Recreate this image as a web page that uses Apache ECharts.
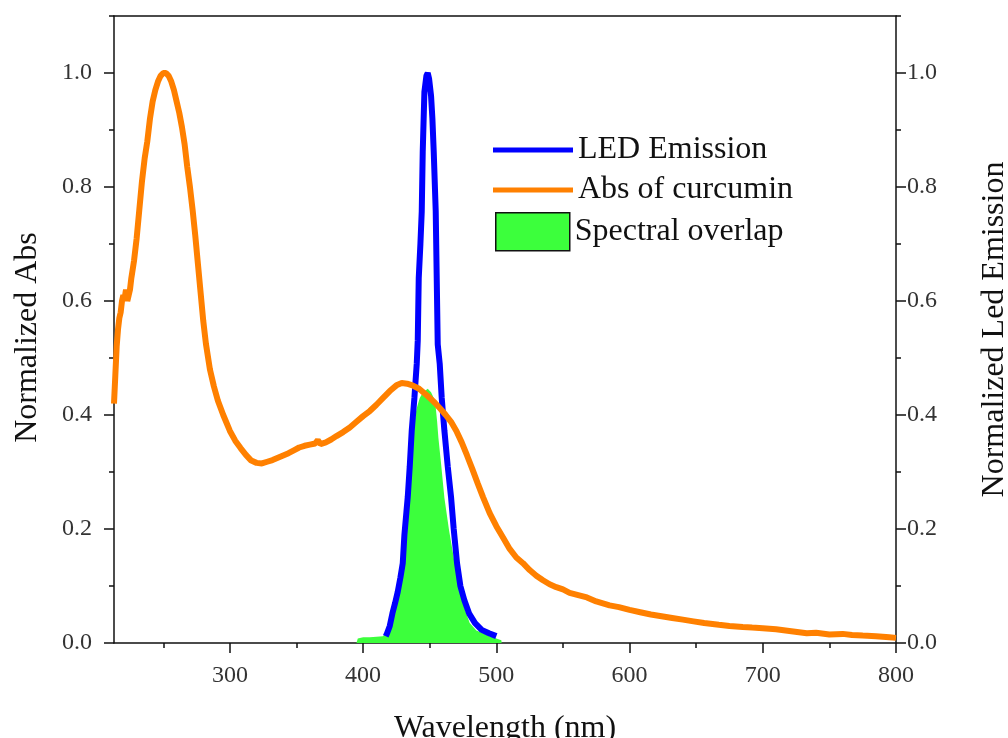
<!DOCTYPE html>
<html>
<head>
<meta charset="utf-8">
<script src="https://cdn.jsdelivr.net/npm/echarts@6/dist/echarts.min.js"></script>
<style>
  html, body { margin: 0; padding: 0; background: #fff; }
  #main { width: 1008px; height: 738px; }
</style>
</head>
<body>
<div id="main"></div>
<script>
// curcumin absorbance (normalized)
var absWl = [213, 214, 215, 216, 217, 218, 219, 220, 221, 222, 223, 224, 225, 226, 228, 230, 232, 234, 236, 238,
  240, 242, 244, 246, 248, 250, 252, 254, 256, 258, 260, 262, 264, 266, 268, 270, 272, 274, 276, 278,
  280, 282, 285, 288, 291, 295, 300, 304, 308, 312, 316, 320, 324, 328, 332, 336, 340, 344, 348, 352,
  356, 360, 364, 366, 368, 372, 376, 380, 385, 390, 395, 400, 405, 410, 415, 420, 425, 429, 433, 437,
  442, 446, 450, 454, 458, 462, 466, 470, 474, 478, 482, 486, 490, 495, 500, 505, 510, 515, 520, 525, 530,
  535, 540, 545, 550, 555, 560, 568, 575, 585, 592, 600, 608, 616, 624, 632, 640, 648, 656, 667, 675,
  685, 692, 700, 710, 720, 733, 740, 750, 760, 767, 775, 785, 795, 800];
var absVal = [0.42, 0.47, 0.52, 0.55, 0.57, 0.58, 0.60, 0.61, 0.605, 0.62, 0.60, 0.61, 0.62, 0.64, 0.67, 0.71, 0.76, 0.81, 0.85, 0.88,
  0.92, 0.95, 0.97, 0.985, 0.995, 1.0, 1.0, 0.995, 0.985, 0.97, 0.95, 0.93, 0.905, 0.875, 0.835, 0.80, 0.76, 0.715, 0.665, 0.615,
  0.565, 0.525, 0.48, 0.45, 0.425, 0.40, 0.372, 0.355, 0.342, 0.330, 0.320, 0.316, 0.315, 0.318, 0.321, 0.325, 0.329, 0.333, 0.338, 0.343,
  0.346, 0.348, 0.350, 0.356, 0.349, 0.352, 0.357, 0.363, 0.370, 0.378, 0.388, 0.398, 0.407, 0.418, 0.430, 0.442, 0.452, 0.456, 0.455, 0.452,
  0.446, 0.438, 0.430, 0.421, 0.411, 0.400, 0.388, 0.372, 0.352, 0.329, 0.305, 0.280, 0.256, 0.228, 0.205, 0.185, 0.165, 0.150, 0.140, 0.128, 0.118,
  0.110, 0.103, 0.098, 0.094, 0.088, 0.085, 0.080, 0.073, 0.066, 0.063, 0.058, 0.054, 0.050, 0.047, 0.044, 0.041, 0.038, 0.035, 0.032, 0.030,
  0.028, 0.027, 0.026, 0.024, 0.021, 0.017, 0.018, 0.015, 0.016, 0.014, 0.013, 0.012, 0.010, 0.009];

// LED emission (normalized)
var ledWl = [417, 418, 420, 422, 424, 426, 428, 429.75, 431, 432.5, 433.5, 435, 436.5, 438.5, 440.25, 441, 441.75, 443, 444, 444.75,
  446, 447.5, 448.5, 449.5, 451, 452, 453, 454.5, 455.25, 456, 457.5, 459, 461, 463.5, 466, 468, 470.5, 473, 476, 479.5,
  484, 489, 494.5, 500];
var ledVal = [0.012, 0.017, 0.03, 0.052, 0.07, 0.09, 0.115, 0.14, 0.19, 0.23, 0.256, 0.31, 0.373, 0.43, 0.49, 0.53, 0.64, 0.70, 0.757, 0.862,
  0.967, 0.995, 1.0, 0.99, 0.96, 0.92, 0.862, 0.757, 0.64, 0.524, 0.49, 0.43, 0.373, 0.31, 0.256, 0.20, 0.14, 0.10, 0.075, 0.052,
  0.035, 0.023, 0.017, 0.012];

// spectral overlap
var overlapWl = [395, 396, 400, 405, 410, 414.75, 418.5, 421, 423.75, 427, 430.5, 432.5, 434.25, 436, 437.5, 440, 442.5, 445, 448.5, 451,
  454, 455.5, 456.5, 458.5, 461, 464.5, 468.75, 473.75, 477, 480, 485, 490, 495, 500, 503.75, 504];
var overlapVal = [0, 0.008, 0.01, 0.01, 0.011, 0.012, 0.02, 0.035, 0.055, 0.09, 0.14, 0.2, 0.255, 0.32, 0.372, 0.41, 0.43, 0.44, 0.446, 0.44,
  0.425, 0.39, 0.36, 0.315, 0.255, 0.198, 0.14, 0.08, 0.055, 0.035, 0.022, 0.017, 0.012, 0.008, 0.005, 0];

var xMajor = [300, 400, 500, 600, 700, 800];
var xMinor = [250, 350, 450, 550, 650, 750];
var yMajor = [0, 0.2, 0.4, 0.6, 0.8, 1.0];
var yMinor = [0.1, 0.3, 0.5, 0.7, 0.9, 1.1];

function zip(a, b) {
    return a.map(function (v, i) { return [v, b[i]]; });
}

var font = 'Liberation Serif';
var lineCol = '#111';
var blue = '#0000ff';
var orange = '#ff8000';
var green = '#3cff3c';

function yAxisBase(pos) {
    return {
        type: 'value', position: pos, offset: 0, min: 0, max: 1.1,
        splitLine: {show: false}
    };
}

var myChart = echarts.init(document.getElementById('main'));

var option = {
    animation: false,
    backgroundColor: '#fff',
    grid: {left: 114, right: 112, top: 16, bottom: 95, containLabel: false, outerBoundsMode: 'none'},
    legend: [
        {
            orient: 'vertical',
            left: 493,
            top: 134,
            padding: 0,
            itemWidth: 80,
            itemHeight: 5,
            itemGap: 8,
            textStyle: {fontFamily: font, fontSize: 32, color: '#111'},
            data: [
                {name: 'LED Emission', icon: 'rect', itemStyle: {color: blue}},
                {name: 'Abs of curcumin', icon: 'rect', itemStyle: {color: orange}}
            ]
        },
        {
            orient: 'vertical',
            left: 495,
            top: 212,
            padding: 0,
            itemWidth: 74,
            itemHeight: 38,
            textStyle: {fontFamily: font, fontSize: 32, color: '#111'},
            data: [
                {name: 'Spectral overlap', icon: 'rect', itemStyle: {color: green, borderColor: '#111', borderWidth: 1.5}}
            ]
        }
    ],
    xAxis: [
        {
            type: 'value', position: 'bottom', min: 213, max: 800,
            name: 'Wavelength (nm)', nameLocation: 'middle', nameGap: 70,
            nameTextStyle: {fontFamily: font, fontSize: 32, color: '#111'},
            axisLine: {onZero: false, lineStyle: {color: lineCol, width: 1.5}},
            axisTick: {customValues: xMajor, length: 10, lineStyle: {color: lineCol, width: 1.5}},
            axisLabel: {customValues: xMajor, margin: 21, fontFamily: font, fontSize: 24, color: '#333'},
            splitLine: {show: false}
        },
        {
            type: 'value', position: 'bottom', offset: 0, min: 213, max: 800,
            axisLine: {show: false},
            axisTick: {customValues: xMinor, length: 5, lineStyle: {color: lineCol, width: 1.5}},
            axisLabel: {show: false},
            splitLine: {show: false}
        },
        {
            type: 'value', position: 'top', min: 213, max: 800,
            axisLine: {onZero: false, lineStyle: {color: lineCol, width: 1.5}},
            axisTick: {show: false},
            axisLabel: {show: false},
            splitLine: {show: false}
        }
    ],
    yAxis: [
        Object.assign(yAxisBase('left'), {
            name: 'Normalized Abs', nameLocation: 'middle', nameRotate: 90, nameGap: 70,
            nameTextStyle: {fontFamily: font, fontSize: 32, color: '#111', padding: [0, 16, 0, 0]},
            axisLine: {show: true, lineStyle: {color: lineCol, width: 1.5}},
            axisTick: {show: true, customValues: yMajor, length: 10, lineStyle: {color: lineCol, width: 1.5}},
            axisLabel: {customValues: yMajor, margin: 22, fontFamily: font, fontSize: 24, color: '#333',
                formatter: function (v) { return v.toFixed(1); }}
        }),
        Object.assign(yAxisBase('left'), {
            axisLine: {show: false},
            axisTick: {show: true, customValues: yMinor, length: 5, lineStyle: {color: lineCol, width: 1.5}},
            axisLabel: {show: false}
        }),
        Object.assign(yAxisBase('right'), {
            name: 'Normalized Led Emission', nameLocation: 'middle', nameRotate: 90, nameGap: 83,
            nameTextStyle: {fontFamily: font, fontSize: 32, color: '#111'},
            axisLine: {show: true, lineStyle: {color: lineCol, width: 1.5}},
            axisTick: {show: true, customValues: yMajor, length: 10, lineStyle: {color: lineCol, width: 1.5}},
            axisLabel: {customValues: yMajor, margin: 11, fontFamily: font, fontSize: 24, color: '#333',
                formatter: function (v) { return v.toFixed(1); }}
        }),
        Object.assign(yAxisBase('right'), {
            axisLine: {show: false},
            axisTick: {show: true, customValues: yMinor, length: 5, lineStyle: {color: lineCol, width: 1.5}},
            axisLabel: {show: false}
        })
    ],
    series: [
        {
            name: 'Spectral overlap', type: 'line', xAxisIndex: 0, yAxisIndex: 0, z: 1,
            symbol: 'none', silent: true,
            itemStyle: {color: green},
            lineStyle: {width: 0},
            areaStyle: {color: green, opacity: 1},
            data: zip(overlapWl, overlapVal)
        },
        {
            name: 'LED Emission', type: 'line', xAxisIndex: 0, yAxisIndex: 2, z: 2,
            symbol: 'none',
            itemStyle: {color: blue},
            lineStyle: {color: blue, width: 6},
            data: zip(ledWl, ledVal)
        },
        {
            name: 'Abs of curcumin', type: 'line', xAxisIndex: 0, yAxisIndex: 0, z: 3,
            symbol: 'none',
            itemStyle: {color: orange},
            lineStyle: {color: orange, width: 6},
            data: zip(absWl, absVal)
        }
    ]
};

option && myChart.setOption(option);
</script>
</body>
</html>
